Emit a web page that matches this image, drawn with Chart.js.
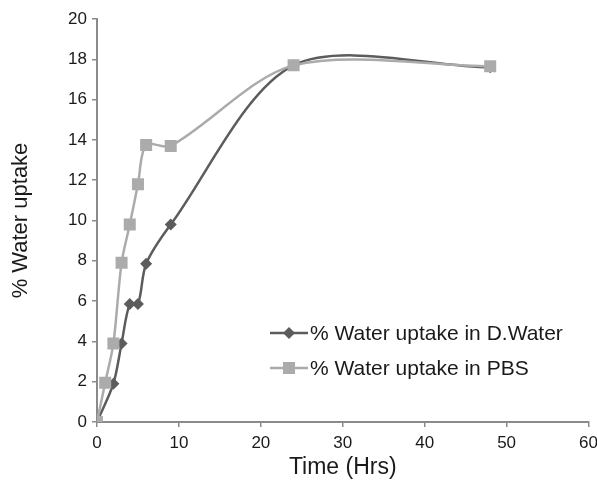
<!DOCTYPE html>
<html>
<head>
<meta charset="utf-8">
<script src="https://cdn.jsdelivr.net/npm/chart.js@4"></script>
<style>
  html, body { margin: 0; padding: 0; background: #fff; }
  #wrap { width: 597px; height: 480px; }
</style>
</head>
<body>
<div id="wrap"><canvas id="myChart"></canvas></div>
<script>
const hoursWater = [0, 2, 3, 4, 5, 6, 9, 24, 48];
const uptakeWater = [0, 1.9, 3.9, 5.85, 5.85, 7.85, 9.8, 17.7, 17.6];
const hoursPBS = [0, 1, 2, 3, 4, 5, 6, 9, 24, 48];
const uptakePBS = [0, 1.95, 3.9, 7.9, 9.8, 11.8, 13.75, 13.7, 17.7, 17.65];
const xTicks = [0, 10, 20, 30, 40, 50, 60];
const yTicks = [0, 2, 4, 6, 8, 10, 12, 14, 16, 18, 20];

const darkGray = '#5c5c5c';
const lightGray = '#ababab';
const axisGray = '#8a8a8a';
const font = 'Liberation Sans, Arial, sans-serif';

const toPoints = (xs, ys) => xs.map((x, i) => ({ x: x, y: ys[i] }));

// legend drawn inside the plot, line + marker like the original
const insideLegend = {
  id: 'insideLegend',
  afterDraw(chart) {
    const { ctx } = chart;
    const rows = [
      { ds: chart.data.datasets[0], y: 333 },
      { ds: chart.data.datasets[1], y: 368 },
    ];
    ctx.save();
    ctx.font = '21px ' + font;
    ctx.textBaseline = 'middle';
    rows.forEach(r => {
      ctx.strokeStyle = r.ds.borderColor;
      ctx.lineWidth = 2.5;
      ctx.beginPath();
      ctx.moveTo(270, r.y);
      ctx.lineTo(308, r.y);
      ctx.stroke();
      ctx.fillStyle = r.ds.pointBackgroundColor;
      Chart.helpers.drawPoint(ctx, {
        pointStyle: r.ds.pointStyle,
        radius: r.ds.pointRadius,
        borderWidth: 0,
      }, 289, r.y);
      ctx.fillStyle = '#1a1a1a';
      ctx.fillText(r.ds.label, 310, r.y + 1);
    });
    ctx.restore();
  },
};

new Chart(document.getElementById('myChart'), {
  type: 'line',
  data: {
    datasets: [
      {
        label: '% Water uptake in D.Water',
        data: toPoints(hoursWater, uptakeWater),
        borderColor: darkGray,
        backgroundColor: darkGray,
        pointBackgroundColor: darkGray,
        pointBorderWidth: 0,
        pointStyle: 'rectRot',
        pointRadius: 6,
        borderWidth: 2.5,
        tension: 0.3,
        order: 1,
      },
      {
        label: '% Water uptake in PBS',
        data: toPoints(hoursPBS, uptakePBS),
        borderColor: lightGray,
        backgroundColor: lightGray,
        pointBackgroundColor: lightGray,
        pointBorderWidth: 0,
        pointStyle: 'rect',
        pointRadius: 8.5,
        borderWidth: 2.5,
        tension: 0.3,
        order: 0,
      },
    ],
  },
  options: {
    responsive: true,
    maintainAspectRatio: false,
    animation: false,
    layout: { padding: { top: 19, right: 7, left: 0, bottom: 0 } },
    plugins: {
      legend: { display: false },
      tooltip: { enabled: false },
    },
    scales: {
      x: {
        type: 'linear',
        min: 0,
        max: 60,
        afterBuildTicks: s => { s.ticks = xTicks.map(v => ({ value: v })); },
        afterFit: s => { s.height = 58; s.paddingRight = 0; },
        border: { color: axisGray, width: 2 },
        grid: { drawOnChartArea: false, color: axisGray, tickLength: 5, lineWidth: 1.5 },
        ticks: { color: '#1a1a1a', font: { family: font, size: 17 }, padding: 6 },
        title: {
          display: true,
          text: 'Time (Hrs)',
          color: '#1a1a1a',
          font: { family: font, size: 23 },
          padding: { top: 0, bottom: -1 },
        },
      },
      y: {
        type: 'linear',
        min: 0,
        max: 20,
        afterBuildTicks: s => { s.ticks = yTicks.map(v => ({ value: v })); },
        afterFit: s => { s.width = 97; },
        border: { color: axisGray, width: 2 },
        grid: { drawOnChartArea: false, color: axisGray, tickLength: 5, lineWidth: 1.5 },
        ticks: { color: '#1a1a1a', font: { family: font, size: 17 }, padding: 5 },
        title: {
          display: true,
          text: '% Water uptake',
          color: '#1a1a1a',
          font: { family: font, size: 22 },
          padding: { top: 8, bottom: 0 },
        },
      },
    },
  },
  plugins: [insideLegend],
});
</script>
</body>
</html>
